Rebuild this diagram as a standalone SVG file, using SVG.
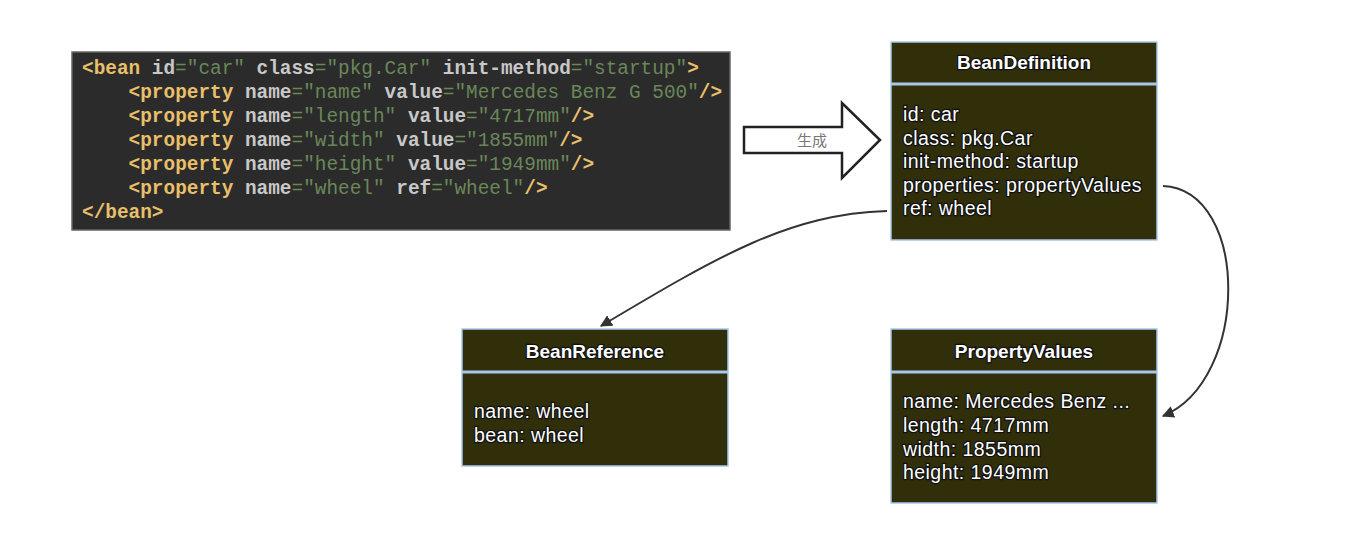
<svg xmlns="http://www.w3.org/2000/svg" width="1354" height="538" viewBox="0 0 1354 538">
<style>
.code{font-family:"Liberation Mono","DejaVu Sans Mono",monospace;font-size:19.4px;}
.tag{fill:#e8bf6a;font-weight:bold;}
.attr{fill:#c8c8c8;font-weight:bold;}
.val{fill:#6a8759;}
.box{fill:#302f0a;stroke:#a9c8e8;stroke-width:1.5;}
.sep{stroke:#a9c8e8;stroke-width:3;}
.hdr{font-family:"Liberation Sans",Arial,sans-serif;font-size:19px;font-weight:bold;fill:#fff;stroke:#111;stroke-width:2.5;paint-order:stroke;text-anchor:middle;}
.txt{font-family:"Liberation Sans",Arial,sans-serif;font-size:19.5px;letter-spacing:0.45px;fill:#fff;stroke:#111;stroke-width:2.5;paint-order:stroke;}
.conn{fill:none;stroke:#333;stroke-width:2;}
</style>
<defs>
<marker id="ah" viewBox="0 0 10 10" refX="9" refY="5" markerWidth="12" markerHeight="12" markerUnits="userSpaceOnUse" orient="auto">
<path d="M0,0 L10,5 L0,10 Z" fill="#333"/>
</marker>
</defs>
<rect width="1354" height="538" fill="#fff"/>
<g id="code">
<rect x="72" y="52" width="658" height="178" fill="#2b2b2b" stroke="#666" stroke-width="1.5"/>
<text class="code" xml:space="preserve" x="82" y="74"><tspan class="tag">&lt;bean</tspan><tspan class="attr"> id</tspan><tspan class="val">="car"</tspan><tspan class="attr"> class</tspan><tspan class="val">="pkg.Car"</tspan><tspan class="attr"> init-method</tspan><tspan class="val">="startup"</tspan><tspan class="tag">&gt;</tspan></text>
<text class="code" xml:space="preserve" x="128.6" y="98"><tspan class="tag">&lt;property</tspan><tspan class="attr"> name</tspan><tspan class="val">="name"</tspan><tspan class="attr"> value</tspan><tspan class="val">="Mercedes Benz G 500"</tspan><tspan class="tag">/&gt;</tspan></text>
<text class="code" xml:space="preserve" x="128.6" y="122"><tspan class="tag">&lt;property</tspan><tspan class="attr"> name</tspan><tspan class="val">="length"</tspan><tspan class="attr"> value</tspan><tspan class="val">="4717mm"</tspan><tspan class="tag">/&gt;</tspan></text>
<text class="code" xml:space="preserve" x="128.6" y="146"><tspan class="tag">&lt;property</tspan><tspan class="attr"> name</tspan><tspan class="val">="width"</tspan><tspan class="attr"> value</tspan><tspan class="val">="1855mm"</tspan><tspan class="tag">/&gt;</tspan></text>
<text class="code" xml:space="preserve" x="128.6" y="170"><tspan class="tag">&lt;property</tspan><tspan class="attr"> name</tspan><tspan class="val">="height"</tspan><tspan class="attr"> value</tspan><tspan class="val">="1949mm"</tspan><tspan class="tag">/&gt;</tspan></text>
<text class="code" xml:space="preserve" x="128.6" y="194"><tspan class="tag">&lt;property</tspan><tspan class="attr"> name</tspan><tspan class="val">="wheel"</tspan><tspan class="attr"> ref</tspan><tspan class="val">="wheel"</tspan><tspan class="tag">/&gt;</tspan></text>
<text class="code" xml:space="preserve" x="82" y="218"><tspan class="tag">&lt;/bean&gt;</tspan></text>
</g>
<g id="generate">
<polygon points="744,127 842,127 842,103 880,140 842,178 842,153 744,153" fill="#fff" stroke="#222" stroke-width="2.5" stroke-linejoin="miter"/>
<text x="812" y="146" font-family="'Noto Sans CJK SC',sans-serif" font-size="15" fill="#777" text-anchor="middle">生成</text>
</g>
<g id="beanDefinition">
<rect class="box" x="891" y="42" width="266" height="198"/>
<line class="sep" x1="891" y1="84" x2="1157" y2="84"/>
<text class="hdr" x="1024" y="69">BeanDefinition</text>
<text class="txt" x="903" y="121">id: car</text>
<text class="txt" x="903" y="144.5">class: pkg.Car</text>
<text class="txt" x="903" y="168">init-method: startup</text>
<text class="txt" x="903" y="191.5">properties: propertyValues</text>
<text class="txt" x="903" y="215">ref: wheel</text>
</g>
<g id="beanReference">
<rect class="box" x="462" y="329" width="266" height="137"/>
<line class="sep" x1="462" y1="372" x2="728" y2="372"/>
<text class="hdr" x="595" y="358">BeanReference</text>
<text class="txt" x="474" y="418">name: wheel</text>
<text class="txt" x="474" y="442">bean: wheel</text>
</g>
<g id="propertyValues">
<rect class="box" x="891" y="329" width="266" height="174"/>
<line class="sep" x1="891" y1="372" x2="1157" y2="372"/>
<text class="hdr" x="1024" y="358">PropertyValues</text>
<text class="txt" x="903" y="408">name: Mercedes Benz ...</text>
<text class="txt" x="903" y="432">length: 4717mm</text>
<text class="txt" x="903" y="456">width: 1855mm</text>
<text class="txt" x="903" y="479">height: 1949mm</text>
</g>
<g id="connectors">
<path class="conn" d="M887,211 C790,214 720,255 601,326" marker-end="url(#ah)"/>
<path class="conn" d="M1163,186 C1250,190 1250,380 1163,416" marker-end="url(#ah)"/>
</g>
</svg>
